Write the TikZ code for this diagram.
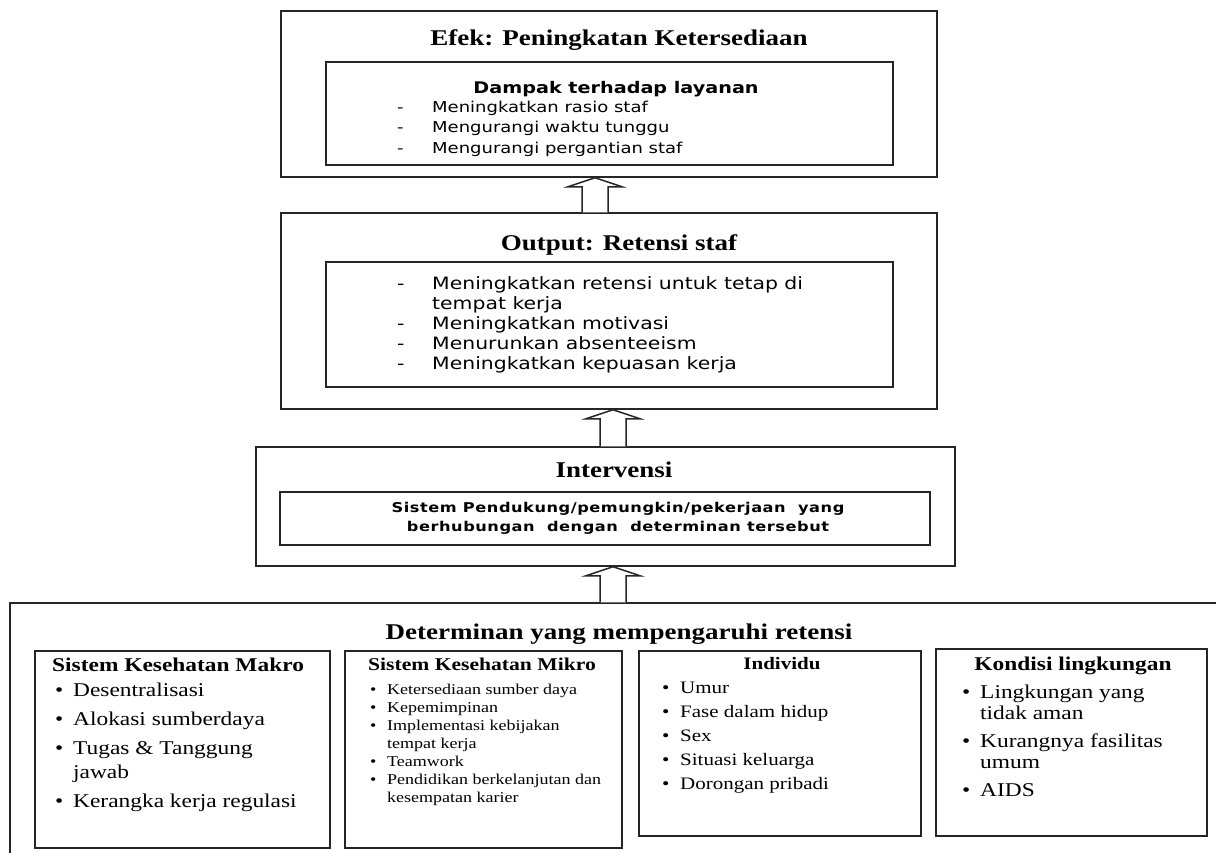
\documentclass[tikz,border=0pt]{standalone}
\usepackage{fontspec}
\setmainfont[FakeStretch=1.2]{Liberation Serif}
\newfontfamily\vsans[FakeStretch=1.2]{DejaVu Sans}
\newfontfamily\vsanswide[FakeStretch=1.2, LetterSpace=4]{DejaVu Sans}
\usetikzlibrary{calc}
\newcommand{\sz}[2]{\fontsize{#1}{#2}\selectfont}
\newcommand{\dashitem}[1]{\makebox[35pt][l]{-}#1}
\newcommand{\dotitem}[2][18pt]{\makebox[#1][l]{\textbullet}#2}
\newcommand{\listblock}[1]{\begin{tabular}[t]{@{}l@{}}#1\end{tabular}}
\tikzset{
  boxline/.style={draw=black!85, line width=1.5pt, inner sep=0pt},
  bigtitle/.style={font=\sz{22.5}{27}\bfseries, anchor=base, inner sep=0pt},
  subhead/.style={font=\bfseries, anchor=base, inner sep=0pt},
  itemlist/.style={anchor=base west, inner sep=0pt},
  hollowarrow/.style={draw=black!85, line width=1.5pt, fill=white, line join=miter}
}
% block arrow from the lower box up to the upper box
\newcommand{\liftarrow}[3]{%
  \coordinate (lo) at (#1,0 |- #2.north);
  \coordinate (hi) at (#1,0 |- #3.south);
  \draw[hollowarrow] ($(lo)+(-13,0)$) -- ($(hi)+(-13,9)$) -- ($(hi)+(-27,9)$)
    -- (hi) -- ($(hi)+(27,9)$) -- ($(hi)+(13,9)$) -- ($(lo)+(13,0)$);}
\begin{document}
\begin{tikzpicture}[x=1pt, y=-1pt]
\useasboundingbox (0,0) rectangle (1216,852);
\clip (0,0) rectangle (1216,852);
\fill[white] (0,0) rectangle (1216,852);
% ===== efek =====
\node[boxline, minimum width=656pt, minimum height=166pt] (efek) at (609,94) {};
\node[bigtitle] (efektitle) at (619,45) {Efek: Peningkatan Ketersediaan};
\node[boxline, minimum width=567pt, minimum height=103pt] (efekin) at (609.5,113.5) {};
\node[subhead, font=\vsans\sz{16}{19}\bfseries] (dampak) at (616,93) {Dampak terhadap layanan};
\node[itemlist, font=\vsans\sz{15}{20.5}] (dampaklist) at (397,112) {\listblock{%
  \dashitem{Meningkatkan rasio staf}\\
  \dashitem{Mengurangi waktu tunggu}\\
  \dashitem{Mengurangi pergantian staf}}};
% ===== output =====
\node[boxline, minimum width=656pt, minimum height=196pt] (output) at (609,311) {};
\node[bigtitle] (outtitle) at (619,250) {Output: Retensi staf};
\node[boxline, minimum width=567pt, minimum height=125pt] (outin) at (609.5,324.5) {};
\node[itemlist, font=\vsans\sz{17}{20}] (outlist) at (397,289) {\listblock{%
  \dashitem{Meningkatkan retensi untuk tetap di}\\
  \hspace*{35pt}tempat kerja\\
  \dashitem{Meningkatkan motivasi}\\
  \dashitem{Menurunkan absenteeism}\\
  \dashitem{Meningkatkan kepuasan kerja}}};
% ===== intervensi =====
\node[boxline, minimum width=699pt, minimum height=119pt] (interv) at (605.5,506.5) {};
\node[bigtitle] (intvtitle) at (614,477) {Intervensi};
\node[boxline, minimum width=650pt, minimum height=53pt] (intvin) at (605,518.5) {};
\node[anchor=center, align=center, inner sep=0pt, font=\vsanswide\sz{13.5}{19}\bfseries] (intvtext) at (618,518)
  {Sistem Pendukung/pemungkin/pekerjaan\ \ yang\\ berhubungan\ \ dengan\ \ determinan tersebut};
% ===== determinan =====
\node[boxline, minimum width=1220pt, minimum height=267pt] (determ) at (620,736.5) {};
\node[bigtitle] (dettitle) at (619,639) {Determinan yang mempengaruhi retensi};
% makro
\node[boxline, minimum width=295pt, minimum height=197pt] (makro) at (182.5,749.5) {};
\node[subhead, anchor=base west, font=\sz{19.5}{23}\bfseries] (makrohd) at (52,671) {Sistem Kesehatan Makro};
\node[itemlist, font=\sz{19.5}{29}] (makrolist) at (55,696) {\listblock{%
  \dotitem{Desentralisasi}\\
  \dotitem{Alokasi sumberdaya}\\
  \dotitem{Tugas \& Tanggung}\\[-5pt]
  \hspace*{18pt}jawab\\
  \dotitem{Kerangka kerja regulasi}}};
% mikro
\node[boxline, minimum width=277pt, minimum height=197pt] (mikro) at (483.5,749.5) {};
\node[subhead, anchor=base west, font=\sz{18}{21}\bfseries] (mikrohd) at (368,670) {Sistem Kesehatan Mikro};
\node[itemlist, font=\sz{15}{18}] (mikrolist) at (370,694) {\listblock{%
  \dotitem[17pt]{Ketersediaan sumber daya}\\
  \dotitem[17pt]{Kepemimpinan}\\
  \dotitem[17pt]{Implementasi kebijakan}\\
  \hspace*{17pt}tempat kerja\\
  \dotitem[17pt]{Teamwork}\\
  \dotitem[17pt]{Pendidikan berkelanjutan dan}\\
  \hspace*{17pt}kesempatan karier}};
% individu
\node[boxline, minimum width=282pt, minimum height=185pt] (indiv) at (780,743.5) {};
\node[subhead, font=\sz{17.5}{21}\bfseries] (indivhd) at (782,669) {Individu};
\node[itemlist, font=\sz{17.5}{24}] (indivlist) at (662,693) {\listblock{%
  \dotitem{Umur}\\
  \dotitem{Fase dalam hidup}\\
  \dotitem{Sex}\\
  \dotitem{Situasi keluarga}\\
  \dotitem{Dorongan pribadi}}};
% kondisi lingkungan
\node[boxline, minimum width=271pt, minimum height=187pt] (kondisi) at (1071.5,742.5) {};
\node[subhead, font=\sz{19.5}{23}\bfseries] (kondisihd) at (1073,670) {Kondisi lingkungan};
\node[itemlist, font=\sz{19.5}{28}] (kondisilist) at (962,698) {\listblock{%
  \dotitem{Lingkungan yang}\\[-7pt]
  \hspace*{18pt}tidak aman\\
  \dotitem{Kurangnya fasilitas}\\[-7pt]
  \hspace*{18pt}umum\\
  \dotitem{AIDS}}};
% ===== arrows =====
\liftarrow{595}{output}{efek}
\liftarrow{613}{interv}{output}
\liftarrow{613}{determ}{interv}
\end{tikzpicture}
\end{document}
